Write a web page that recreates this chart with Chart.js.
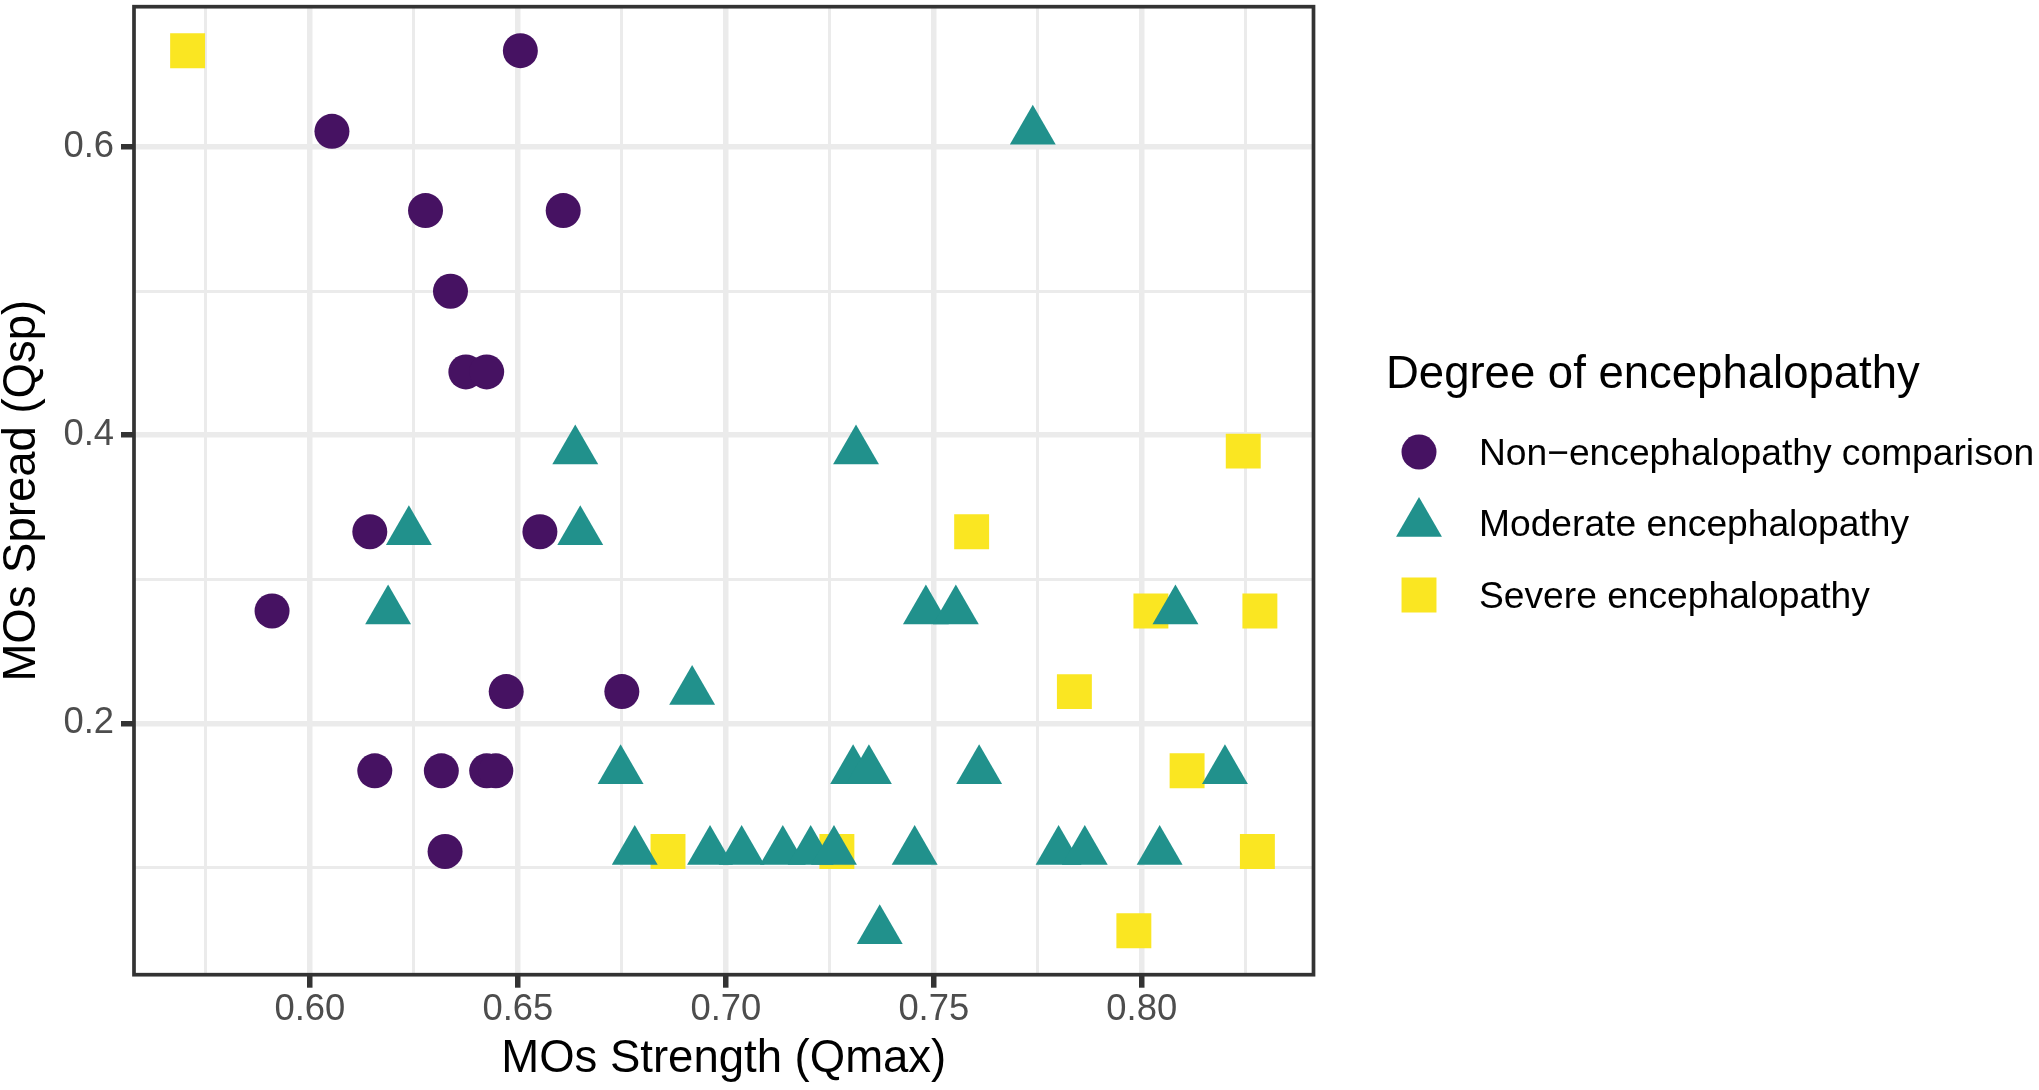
<!DOCTYPE html>
<html>
<head>
<meta charset="utf-8">
<script src="https://cdn.jsdelivr.net/npm/chart.js@4.4.1/dist/chart.umd.min.js"></script>
<style>
  html, body { margin: 0; padding: 0; background: #ffffff; }
</style>
</head>
<body>
<canvas id="encChart" width="2039" height="1090" style="width:2039px;height:1090px"></canvas>
<script>
// groups in legend order
const groupNames = ['Non\u2212encephalopathy comparison', 'Moderate encephalopathy', 'Severe encephalopathy'];
const groupColors = ['#461262', '#21918C', '#FAE622'];
const groupShapes = ['circle', 'triangle', 'rect'];

// MOs Strength (Qmax) / MOs Spread (Qsp)
const nonX = [0.6506, 0.6053, 0.6278, 0.6609, 0.6338, 0.6375, 0.6425, 0.6144, 0.6553,
              0.5909, 0.6472, 0.6750, 0.6156, 0.6316, 0.6425, 0.6447, 0.6325];
const nonY = [0.667, 0.611, 0.556, 0.556, 0.500, 0.444, 0.444, 0.333, 0.333,
              0.278, 0.222, 0.222, 0.167, 0.167, 0.167, 0.167, 0.111];

const modX = [0.7738, 0.6638, 0.7313, 0.6238, 0.6650, 0.6188, 0.7481, 0.7553, 0.8081,
              0.6919, 0.6747, 0.7306, 0.7344, 0.7609, 0.8200, 0.6781, 0.6962, 0.7038,
              0.7137, 0.7204, 0.7260, 0.7454, 0.7800, 0.7863, 0.8043, 0.7370];
const modY = [0.611, 0.389, 0.389, 0.333, 0.333, 0.278, 0.278, 0.278, 0.278,
              0.222, 0.167, 0.167, 0.167, 0.167, 0.167, 0.111, 0.111, 0.111,
              0.111, 0.111, 0.111, 0.111, 0.111, 0.111, 0.111, 0.056];

const sevX = [0.5706, 0.8244, 0.7591, 0.8022, 0.8284, 0.7838, 0.8109, 0.6861, 0.7267, 0.8278, 0.7981];
const sevY = [0.667, 0.389, 0.333, 0.278, 0.278, 0.222, 0.167, 0.111, 0.111, 0.111, 0.056];

// axis ticks
const xTickValues = [0.60, 0.65, 0.70, 0.75, 0.80];
const xTickLabels = ['0.60', '0.65', '0.70', '0.75', '0.80'];
const xMinorValues = [0.575, 0.625, 0.675, 0.725, 0.775, 0.825];
const yTickValues = [0.2, 0.4, 0.6];
const yTickLabels = ['0.2', '0.4', '0.6'];
const yMinorValues = [0.1, 0.3, 0.5];

const FONT = '"Liberation Sans", Arial, Helvetica, sans-serif';
Chart.defaults.font.family = FONT;

function toPoints(xs, ys) {
  return xs.map((x, i) => ({ x: x, y: ys[i] }));
}

// ggplot-like 5% expansion of the data range
function expand(values) {
  const lo = Math.min(...values), hi = Math.max(...values);
  const pad = (hi - lo) * 0.05;
  return [lo - pad, hi + pad];
}
const xRange = expand(nonX.concat(modX, sevX));
const yRange = expand(nonY.concat(modY, sevY));

const isMajor = (list, v) => list.some(t => Math.abs(t - v) < 1e-9);

// keep the panel exactly where the layout padding puts it
function noScalePadding(s) {
  s.paddingTop = 0; s.paddingBottom = 0; s.paddingLeft = 0; s.paddingRight = 0;
}

const panelBorder = {
  id: 'panelBorder',
  afterDatasetsDraw(chart) {
    const { ctx, chartArea: a } = chart;
    ctx.save();
    ctx.strokeStyle = '#333333';
    ctx.lineWidth = 3.7;
    ctx.strokeRect(a.left, a.top, a.right - a.left, a.bottom - a.top);
    ctx.restore();
  }
};

const sideLegend = {
  id: 'sideLegend',
  afterDraw(chart) {
    const ctx = chart.ctx;
    const sizes = [17.5, 26.5, 24.7];
    const rows = [452, 523.5, 595];
    ctx.save();
    ctx.fillStyle = '#000000';
    ctx.font = '45.5px ' + FONT;
    ctx.textAlign = 'left';
    ctx.textBaseline = 'alphabetic';
    ctx.fillText('Degree of encephalopathy', 1386, 388);
    ctx.font = '37.2px ' + FONT;
    ctx.textBaseline = 'middle';
    groupNames.forEach((name, i) => {
      ctx.fillStyle = groupColors[i];
      Chart.helpers.drawPoint(ctx, { pointStyle: groupShapes[i], radius: sizes[i], rotation: 0, borderWidth: 0 }, 1419, rows[i]);
      ctx.fillStyle = '#000000';
      ctx.fillText(name, 1479, rows[i] + 2.5);
    });
    ctx.restore();
  }
};

new Chart(document.getElementById('encChart'), {
  type: 'scatter',
  data: {
    datasets: [
      { label: groupNames[0], data: toPoints(nonX, nonY), backgroundColor: groupColors[0],
        pointStyle: 'circle', pointRadius: 17.5, pointBorderWidth: 0 },
      { label: groupNames[1], data: toPoints(modX, modY), backgroundColor: groupColors[1],
        pointStyle: 'triangle', pointRadius: 26.5, pointBorderWidth: 0 },
      { label: groupNames[2], data: toPoints(sevX, sevY), backgroundColor: groupColors[2],
        pointStyle: 'rect', pointRadius: 24.7, pointBorderWidth: 0 }
    ]
  },
  options: {
    responsive: false,
    animation: false,
    events: [],
    layout: { autoPadding: false, padding: { left: 0, top: 6.7, right: 725.5, bottom: 0 } },
    plugins: {
      legend: { display: false },
      tooltip: { enabled: false }
    },
    scales: {
      x: {
        type: 'linear',
        min: xRange[0],
        max: xRange[1],
        afterBuildTicks: s => {
          s.ticks = xMinorValues.concat(xTickValues).sort((a, b) => a - b).map(v => ({ value: v }));
        },
        afterFit: s => { s.height = 1090 - 974.7; noScalePadding(s); },
        border: { display: false },
        grid: {
          color: '#EBEBEB',
          lineWidth: c => (c.tick && isMajor(xTickValues, c.tick.value)) ? 5.5 : 3,
          drawTicks: true,
          tickLength: 13,
          tickWidth: 5.5,
          tickColor: c => (c.tick && isMajor(xTickValues, c.tick.value)) ? '#333333' : 'rgba(0,0,0,0)'
        },
        ticks: {
          autoSkip: false,
          maxRotation: 0,
          padding: 0,
          color: '#4D4D4D',
          font: { size: 36.4 },
          callback: v => {
            const i = xTickValues.findIndex(t => Math.abs(t - v) < 1e-9);
            return i >= 0 ? xTickLabels[i] : '';
          }
        },
        title: {
          display: true,
          text: 'MOs Strength (Qmax)',
          color: '#000000',
          font: { size: 45.5, lineHeight: 1 },
          padding: { top: 0, bottom: 8 }
        }
      },
      y: {
        type: 'linear',
        min: yRange[0],
        max: yRange[1],
        afterBuildTicks: s => {
          s.ticks = yMinorValues.concat(yTickValues).sort((a, b) => a - b).map(v => ({ value: v }));
        },
        afterFit: s => { s.width = 134; noScalePadding(s); },
        border: { display: false },
        grid: {
          color: '#EBEBEB',
          lineWidth: c => (c.tick && isMajor(yTickValues, c.tick.value)) ? 5.5 : 3,
          drawTicks: true,
          tickLength: 13,
          tickWidth: 5.5,
          tickColor: c => (c.tick && isMajor(yTickValues, c.tick.value)) ? '#333333' : 'rgba(0,0,0,0)'
        },
        ticks: {
          autoSkip: false,
          padding: 7,
          color: '#4D4D4D',
          font: { size: 36.4 },
          callback: v => {
            const i = yTickValues.findIndex(t => Math.abs(t - v) < 1e-9);
            return i >= 0 ? yTickLabels[i] : '';
          }
        },
        title: {
          display: true,
          text: 'MOs Spread (Qsp)',
          color: '#000000',
          font: { size: 45.5, lineHeight: 1 },
          padding: { top: 0, bottom: 0 }
        }
      }
    }
  },
  plugins: [panelBorder, sideLegend]
});
</script>
</body>
</html>
